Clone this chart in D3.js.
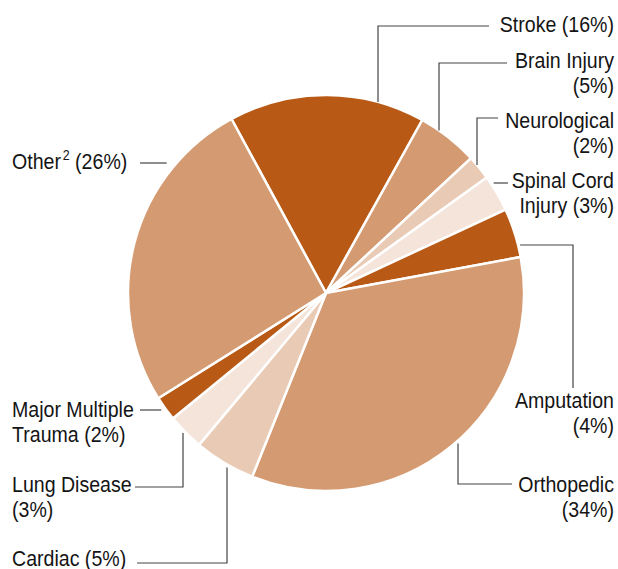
<!DOCTYPE html>
<html>
<head>
<meta charset="utf-8">
<script src="https://cdn.jsdelivr.net/npm/d3@7"></script>
<style>
  body { margin: 0; background: #fff; }
  text { font-family: "Liberation Sans", Arial, sans-serif; font-size: 22px; fill: #141414; }
</style>
</head>
<body>
<div id="chart"></div>
<script>
// data
const categories = ["Stroke", "Brain Injury", "Neurological", "Spinal Cord Injury", "Amputation",
                    "Orthopedic", "Cardiac", "Lung Disease", "Major Multiple Trauma", "Other"];
const values = [16, 5, 2, 3, 4, 34, 5, 3, 2, 26];
const palette = ["#b85916", "#d49a71", "#e9cab4", "#f4e4da"];

// label lines
const labelLines = [
  ["Stroke (16%)"],
  ["Brain Injury", "(5%)"],
  ["Neurological", "(2%)"],
  ["Spinal Cord", "Injury (3%)"],
  ["Amputation", "(4%)"],
  ["Orthopedic", "(34%)"],
  ["Cardiac (5%)"],
  ["Lung Disease", "(3%)"],
  ["Major Multiple", "Trauma (2%)"],
  ["Other", "(26%)"]
];

const width = 618, height = 569;
const cx = 326, cy = 293, r = 198;
const squeeze = 0.89; // condensed look

// leader layout: v = vertical from pie edge then horizontal; h = horizontal only; hv = horizontal then down
const layout = [
  {kind: "v",  side: "top", lx: 378, ly: 26,  tx: 489, anchor: "end",   x: 614, y: 32},
  {kind: "v",  side: "top", lx: 439, ly: 63,  tx: 507, anchor: "end",   x: 614, y: 68},
  {kind: "v",  side: "top", lx: 477, ly: 118, tx: 498, anchor: "end",   x: 614, y: 128},
  {kind: "h",  side: "right", ly: 183, tx: 508, gap: 3, anchor: "end",  x: 614, y: 188},
  {kind: "hv", side: "right", ly: 245, lx: 573, ty: 388, gap: 2, anchor: "end", x: 614, y: 408},
  {kind: "v",  side: "bottom", lx: 458, ly: 484, tx: 512, gap: 3, anchor: "end", x: 614, y: 492},
  {kind: "v",  side: "bottom", lx: 227, ly: 563, tx: 137, gap: 3, anchor: "start", x: 12, y: 566},
  {kind: "v",  side: "bottom", lx: 183, ly: 487, tx: 135, gap: 3, anchor: "start", x: 12, y: 492},
  {kind: "h",  side: "left", ly: 410, tx: 140, gap: 5, anchor: "start", x: 12, y: 417},
  {kind: "h",  side: "left", ly: 163, tx: 140, gap: 10, anchor: "start", x: 12, y: 169}
];

const lineHeight = 25;

const svg = d3.select("#chart").append("svg")
  .attr("width", width)
  .attr("height", height);

const start = -28.5 * Math.PI / 180;
const pie = d3.pie().sort(null).startAngle(start).endAngle(start + 2 * Math.PI);
const arc = d3.arc().innerRadius(0).outerRadius(r);

const arcs = pie(values);

svg.append("g")
  .attr("transform", `translate(${cx},${cy})`)
  .selectAll("path")
  .data(arcs)
  .enter()
  .append("path")
  .attr("d", arc)
  .attr("fill", (d, i) => palette[i % palette.length])
  .attr("stroke", "#fff")
  .attr("stroke-width", 2.5)
  .attr("stroke-linejoin", "round");

// leaders
function leaderPoints(L) {
  const g = L.gap || 0;
  if (L.kind === "v") {
    const dy = Math.sqrt(r * r - (L.lx - cx) * (L.lx - cx));
    const y0 = L.side === "top" ? cy - dy : cy + dy + g;
    return [[L.lx, y0], [L.lx, L.ly], [L.tx, L.ly]];
  }
  const dx = Math.sqrt(r * r - (L.ly - cy) * (L.ly - cy));
  if (L.kind === "h") {
    const x0 = L.side === "left" ? cx - dx - g : cx + dx + g;
    return [[x0, L.ly], [L.tx, L.ly]];
  }
  // hv
  return [[cx + dx + g, L.ly], [L.lx, L.ly], [L.lx, L.ty]];
}

svg.append("g")
  .selectAll("path")
  .data(layout)
  .enter()
  .append("path")
  .attr("d", d => d3.line()(leaderPoints(d)))
  .attr("fill", "none")
  .attr("stroke", "#444")
  .attr("stroke-width", 1.2);

// labels
const labels = svg.append("g")
  .selectAll("text")
  .data(layout)
  .enter()
  .append("text")
  .attr("text-anchor", d => d.anchor)
  .attr("transform", d => `translate(${d.x},${d.y}) scale(${squeeze},1)`);

labels.each(function(d, i) {
  const t = d3.select(this);
  const lines = labelLines[i];
  if (categories[i] === "Other") {
    t.append("tspan").text(lines[0]);
    t.append("tspan").attr("font-size", 14).attr("dy", -9).attr("dx", 2).text("2");
    t.append("tspan").attr("dy", 9).text("\u00a0" + lines[1]);
    return;
  }
  lines.forEach((s, j) => {
    t.append("tspan")
      .attr("x", 0)
      .attr("dy", j === 0 ? 0 : lineHeight)
      .text(s);
  });
});
</script>
</body>
</html>
